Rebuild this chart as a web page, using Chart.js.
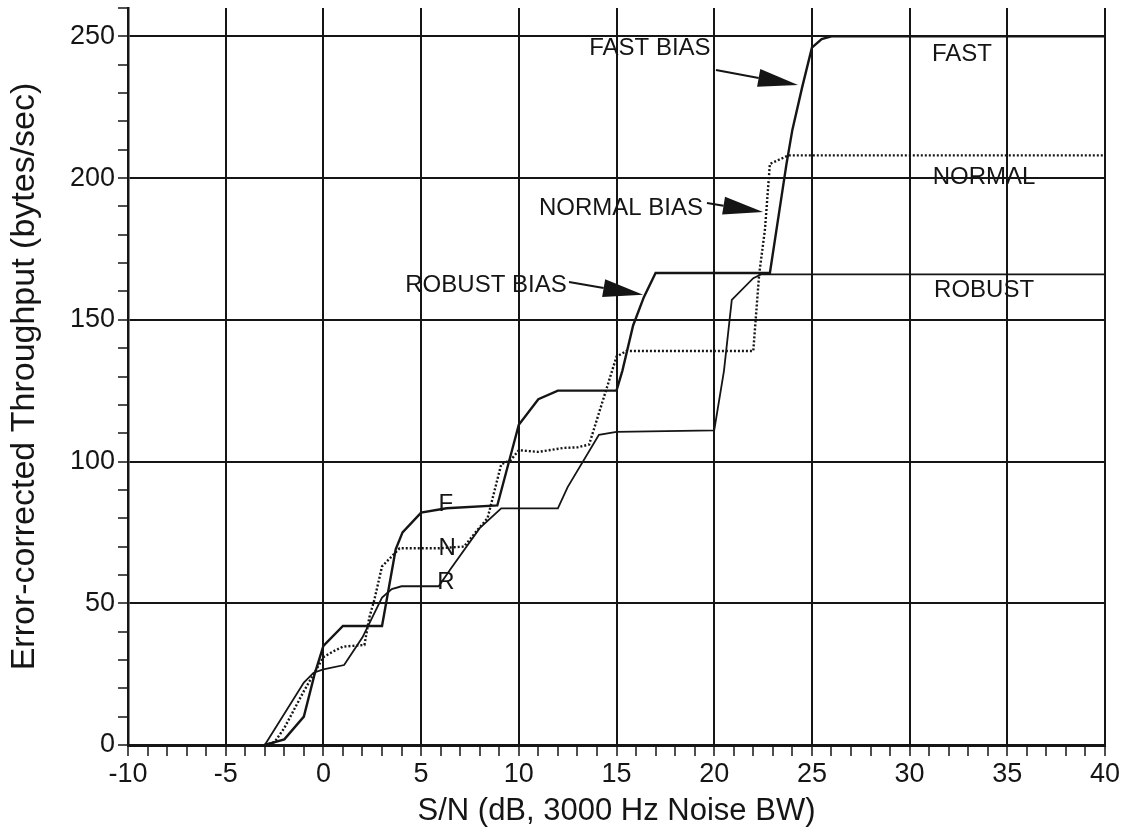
<!DOCTYPE html>
<html>
<head>
<meta charset="utf-8">
<script src="https://cdn.jsdelivr.net/npm/chart.js@4/dist/chart.umd.min.js"></script>
<style>
  html, body { margin: 0; padding: 0; background: #fff; }
</style>
</head>
<body>
<canvas id="chart" width="1133" height="835"></canvas>
<script>
// throughput curves (S/N in dB, bytes/sec)
const fastSnr = [-3, -2, -1, -0.45, 0, 1, 3, 3.7, 4.05, 5, 6.3, 8.9, 10, 11, 12, 15, 15.3, 15.85, 16.4, 17, 22.85, 23.7, 24, 24.5, 25, 25.5, 26, 40];
const fastThr = [0, 2, 10, 25, 35, 42, 42, 69, 75, 82, 83.5, 84.5, 113, 122, 125, 125, 132, 148, 158, 166.5, 166.5, 205, 217, 232, 246, 249, 250, 250];

const normalSnr = [-3, -2.5, -2, -1, -0.5, 0, 0.5, 1, 2.1, 2.35, 2.6, 3, 3.9, 5.9, 7.2, 7.9, 8.4, 9.1, 9.6, 10, 11, 12.3, 13, 13.6, 15, 15.5, 22, 22.3, 22.6, 22.85, 23.8, 40];
const normalThr = [0, 1, 6, 19, 25, 31, 33, 34.7, 35.3, 45, 51, 63, 69.4, 69.4, 70, 76, 80, 99, 100.6, 104, 103.4, 104.8, 105, 106, 137, 139, 139, 166, 182, 205, 208, 208];

const robustSnr = [-3, -1, -0.5, 0, 1.06, 2, 3, 3.5, 4, 5.9, 6.5, 8, 9.1, 12, 12.5, 14.1, 15, 20, 20.5, 20.9, 22, 22.4, 40];
const robustThr = [0, 22, 25.5, 26.7, 28.2, 38, 52, 55, 56, 56, 62, 76.5, 83.5, 83.5, 91, 109.4, 110.5, 111, 132, 157, 164.7, 166, 166];

const xTickLabels = [-10, -5, 0, 5, 10, 15, 20, 25, 30, 35, 40];
const yTickLabels = [0, 50, 100, 150, 200, 250];

const ink = '#151515';
const FONT = '"Liberation Sans", Arial, Helvetica, sans-serif';

const toPts = (xs, ys) => xs.map((x, i) => ({ x, y: ys[i] }));

// text labels and arrows, placed in data units
const notes = [
  { text: 'FAST BIAS', x: 16.71, y: 245.9 },
  { text: 'NORMAL BIAS', x: 15.23, y: 189.4 },
  { text: 'ROBUST BIAS', x: 8.32, y: 162.3 },
  { text: 'FAST', x: 32.68, y: 243.8 },
  { text: 'NORMAL', x: 33.81, y: 200.4 },
  { text: 'ROBUST', x: 33.81, y: 160.5 },
  { text: 'F', x: 6.27, y: 85.0 },
  { text: 'N', x: 6.33, y: 69.5 },
  { text: 'R', x: 6.27, y: 57.2 }
];
const arrows = [
  { x0: 20.09, y0: 238.1, x1: 24.29, y1: 232.8 },
  { x0: 19.63, y0: 191.2, x1: 22.5, y1: 188.0 },
  { x0: 12.57, y0: 163.3, x1: 16.36, y1: 158.8 }
];

const notesPlugin = {
  id: 'notes',
  afterDatasetsDraw(chart) {
    const { ctx, scales: { x, y } } = chart;
    ctx.save();
    ctx.fillStyle = ink;
    ctx.strokeStyle = ink;
    ctx.font = '24px ' + FONT;
    ctx.textAlign = 'center';
    ctx.textBaseline = 'middle';
    notes.forEach(n => ctx.fillText(n.text, x.getPixelForValue(n.x), y.getPixelForValue(n.y)));

    arrows.forEach(a => {
      const px0 = x.getPixelForValue(a.x0), py0 = y.getPixelForValue(a.y0);
      const px1 = x.getPixelForValue(a.x1), py1 = y.getPixelForValue(a.y1);
      const ang = Math.atan2(py1 - py0, px1 - px0);
      const len = 40, half = 9;
      const bx = px1 - Math.cos(ang) * len, by = py1 - Math.sin(ang) * len;
      ctx.lineWidth = 2;
      ctx.beginPath();
      ctx.moveTo(px0, py0);
      ctx.lineTo(bx, by);
      ctx.stroke();
      ctx.beginPath();
      ctx.moveTo(px1, py1);
      ctx.lineTo(bx + Math.sin(ang) * half, by - Math.cos(ang) * half);
      ctx.lineTo(bx - Math.sin(ang) * half, by + Math.cos(ang) * half);
      ctx.closePath();
      ctx.fill();
    });
    ctx.restore();
  }
};

new Chart(document.getElementById('chart'), {
  type: 'scatter',
  data: {
    datasets: [
      { label: 'FAST', data: toPts(fastSnr, fastThr), showLine: true, borderColor: ink, borderWidth: 2.4, pointRadius: 0 },
      { label: 'NORMAL', data: toPts(normalSnr, normalThr), showLine: true, borderColor: ink, borderWidth: 2.4, borderDash: [2, 2], pointRadius: 0 },
      { label: 'ROBUST', data: toPts(robustSnr, robustThr), showLine: true, borderColor: ink, borderWidth: 1.8, pointRadius: 0 }
    ]
  },
  options: {
    responsive: false,
    animation: false,
    devicePixelRatio: 1,
    layout: { padding: { top: 8, right: 28, left: 0, bottom: 0 } },
    plugins: { legend: { display: false }, tooltip: { enabled: false } },
    scales: {
      x: {
        type: 'linear', min: -10, max: 40,
        afterFit: s => { s.height = 90; s.paddingLeft = 0; s.paddingRight = 0; },
        ticks: {
          stepSize: 1, autoSkip: false, maxRotation: 0, color: ink, padding: 2,
          font: { family: FONT, size: 27 },
          callback: v => xTickLabels.includes(v) ? String(v) : ''
        },
        grid: {
          color: c => (c.tick && xTickLabels.includes(c.tick.value)) ? ink : 'rgba(0,0,0,0)',
          lineWidth: 2, tickColor: ink, tickLength: 11, tickWidth: 1.5
        },
        border: { color: ink, width: 3 },
        title: {
          display: true, text: 'S/N (dB, 3000 Hz Noise BW)', color: ink,
          font: { family: FONT, size: 31 }, padding: { top: 0, bottom: 5 }
        }
      },
      y: {
        type: 'linear', min: 0, max: 260,
        afterFit: s => { s.width = 128; s.paddingTop = 0; s.paddingBottom = 0; },
        ticks: {
          stepSize: 10, autoSkip: false, color: ink, padding: 3,
          font: { family: FONT, size: 27 },
          callback: v => yTickLabels.includes(v) ? String(v) : ''
        },
        grid: {
          color: c => (c.tick && yTickLabels.includes(c.tick.value)) ? ink : 'rgba(0,0,0,0)',
          lineWidth: 2, tickColor: ink, tickLength: 10, tickWidth: 1.5
        },
        border: { color: ink, width: 2.5 },
        title: {
          display: true, text: 'Error-corrected Throughput (bytes/sec)', color: ink,
          font: { family: FONT, size: 34 }, padding: { top: 4, bottom: 0 }
        }
      }
    }
  },
  plugins: [notesPlugin]
});
</script>
</body>
</html>
